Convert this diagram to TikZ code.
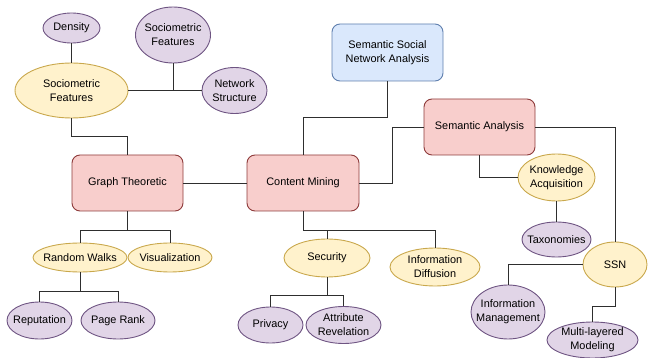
\documentclass[tikz,border=0pt]{standalone}
\usepackage{fontspec}
\setmainfont{Liberation Sans}
\usetikzlibrary{shapes.geometric}
\definecolor{yfill}{HTML}{FFF2CC}
\definecolor{ydraw}{HTML}{C9A84C}
\definecolor{pfill}{HTML}{E1D5E7}
\definecolor{pdraw}{HTML}{6E5482}
\definecolor{rfill}{HTML}{F8CECC}
\definecolor{rdraw}{HTML}{8E3B3B}
\definecolor{bfill}{HTML}{DAE8FC}
\definecolor{bdraw}{HTML}{5F7FAE}
\definecolor{lnc}{HTML}{2E2E2E}
\tikzset{
  lbl/.style={align=center,inner sep=0pt,font=\fontsize{10.9}{13.8}\selectfont,text=black},
  ell/.style={ellipse,inner sep=0pt,line width=0.9pt},
  yel/.style={ell,fill=yfill,draw=ydraw},
  pur/.style={ell,fill=pfill,draw=pdraw},
  rbox/.style={rectangle,rounded corners=8pt,inner sep=0pt,line width=0.9pt,fill=rfill,draw=rdraw,minimum width=111pt,minimum height=56pt,font=\fontsize{10.9}{13.8}\selectfont,align=center},
  bbox/.style={rbox,fill=bfill,draw=bdraw},
  conn/.style={draw=lnc,line width=0.9pt}
}
\begin{document}
\begin{tikzpicture}[x=1pt,y=-1pt]
\useasboundingbox (0,0) rectangle (648,358);
% top-left cluster
\node[pur,minimum width=57pt,minimum height=30pt,label={[lbl]center:Density}] (dens) at (71.5,28) {};
\node[pur,minimum width=75pt,minimum height=56pt,label={[lbl]center:Sociometric\\Features}] (sfp) at (173,35) {};
\node[pur,minimum width=65pt,minimum height=46pt,label={[lbl]center:Network\\Structure}] (ns) at (234.5,90.5) {};
\node[yel,minimum width=113pt,minimum height=55pt,label={[lbl]center:Sociometric\\Features}] (sfy) at (71.5,90.5) {};
% main boxes
\node[rbox] (gt) at (127.5,183) {Graph Theoretic};
\node[rbox,minimum width=112pt] (cm) at (303,183) {Content Mining};
\node[bbox,minimum height=57pt] (ssna) at (387.5,52.5) {Semantic Social\\Network Analysis};
\node[rbox] (sa) at (479.5,127) {Semantic Analysis};
% right cluster
\node[yel,minimum width=77pt,minimum height=47pt,label={[lbl]center:Knowledge\\Acquisition}] (ka) at (556.5,177.5) {};
\node[pur,minimum width=69pt,minimum height=35pt,label={[lbl]center:Taxonomies}] (tax) at (556.5,239.5) {};
\node[yel,minimum width=64pt,minimum height=45pt,label={[lbl]center:SSN}] (ssn) at (615,264.5) {};
\node[pur,minimum width=74pt,minimum height=54pt,label={[lbl]center:Information\\Management}] (im) at (508,312) {};
\node[pur,minimum width=91pt,minimum height=36pt,label={[lbl]center:Multi-layered\\Modeling}] (mlm) at (592.5,340) {};
% graph theoretic children
\node[yel,minimum width=94pt,minimum height=29pt,label={[lbl]center:Random Walks}] (rw) at (80,257.5) {};
\node[yel,minimum width=84pt,minimum height=29pt,label={[lbl]center:Visualization}] (vis) at (170,257.5) {};
\node[pur,minimum width=65pt,minimum height=37pt,label={[lbl]center:Reputation}] (rep) at (39.5,320.5) {};
\node[pur,minimum width=74pt,minimum height=37pt,label={[lbl]center:Page Rank}] (pr) at (118,320.5) {};
% content mining children
\node[yel,minimum width=86pt,minimum height=38pt,label={[lbl]center:Security}] (sec) at (327,258) {};
\node[yel,minimum width=90pt,minimum height=38pt,label={[lbl]center:Information\\Diffusion}] (infd) at (435,267) {};
\node[pur,minimum width=65pt,minimum height=36pt,label={[lbl]center:Privacy}] (priv) at (270.5,325) {};
\node[pur,minimum width=75pt,minimum height=37pt,label={[lbl]center:Attribute\\Revelation}] (attr) at (343.5,325) {};
% connectors
\draw[conn] (dens.south) -- (sfy.north);
\draw[conn] (sfy.east) -- (ns.west);
\draw[conn] (sfp.south) -- (sfp.south |- ns.west);
\draw[conn] (sfy.south) -- ++(0,18) -| (gt.north);
\draw[conn] (gt.east) -- (cm.west);
\draw[conn] (cm.north) -- ++(0,-37) -| (ssna.south);
\draw[conn] (cm.east) -- ++(33,0) |- (sa.west);
\draw[conn] (sa.east) -| (ssn.north);
\draw[conn] (sa.south) |- (ka.west);
\draw[conn] (ka.south) -- (tax.north);
\draw[conn] (ssn.west) -| (im.north);
\draw[conn] (ssn.south) -- ++(0,19) -| (mlm.north);
\draw[conn] (gt.south) -- ++(0,19) -| (rw.north);
\draw[conn] (gt.south) -- ++(0,19) -| (vis.north);
\draw[conn] (rw.south) -- ++(0,19) -| (rep.north);
\draw[conn] (rw.south) -- ++(0,19) -| (pr.north);
\draw[conn] (cm.south) -- ++(0,19) -| (sec.north);
\draw[conn] (cm.south) -- ++(0,19) -| (infd.north);
\draw[conn] (sec.south) -- ++(0,18) -| (priv.north);
\draw[conn] (sec.south) -- ++(0,18) -| (attr.north);
\end{tikzpicture}
\end{document}
